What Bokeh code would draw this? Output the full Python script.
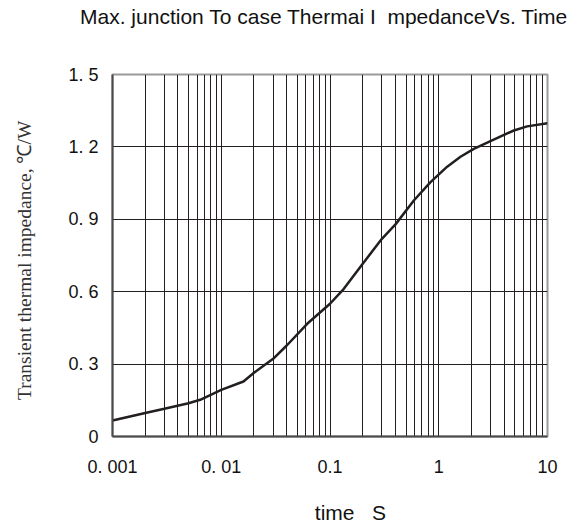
from bokeh.plotting import figure
from bokeh.models import Range1d, FixedTicker, LinearAxis
from bokeh.embed import file_html
from bokeh.resources import INLINE

# data
time_s = [0.001, 0.002, 0.003, 0.005, 0.0064, 0.01, 0.016, 0.02, 0.03, 0.04,
          0.0617, 0.1, 0.134, 0.2, 0.3, 0.4, 0.59, 0.84, 1.196, 1.585,
          2.1, 3.2, 4.9, 6.5, 10]
zth = [0.066, 0.097, 0.115, 0.138, 0.152, 0.193, 0.228, 0.264, 0.322, 0.377,
       0.467, 0.55, 0.612, 0.716, 0.819, 0.879, 0.978, 1.054, 1.118, 1.159,
       1.192, 1.23, 1.268, 1.285, 1.298]

x_ticks = [0.001, 0.01, 0.1, 1, 10]
x_tick_labels = ["0. 001", "0. 01", "0.1", "1", "10"]
y_ticks = [0, 0.3, 0.6, 0.9, 1.2, 1.5]
y_tick_labels = ["0", "0. 3", "0. 6", "0. 9", "1. 2", "1. 5"]

title_text = "Max. junction To case Thermai I\u00a0\u00a0mpedanceVs. Time\u00a0\u00a0"
x_title = "\u00a0" * 7 + "time\u00a0\u00a0\u00a0S"
y_title = "Transient thermal impedance, \u2103/W\u00a0\u00a0"

minor_x = [m * d for d in [0.001, 0.01, 0.1, 1] for m in range(2, 10)]

p = figure(width=579, height=526, x_axis_type="log",
           x_range=Range1d(0.001, 10), y_range=Range1d(0, 1.5),
           output_backend="svg", toolbar_location=None,
           min_border_left=112, min_border_right=32,
           min_border_top=74, min_border_bottom=90,
           frame_width=435, frame_height=362)

p.outline_line_color = "#9a9a9a"
p.outline_line_width = 2
p.background_fill_color = "white"
p.border_fill_color = "white"

p.xaxis.ticker = FixedTicker(ticks=x_ticks, minor_ticks=minor_x)
p.xaxis.major_label_overrides = {t: l for t, l in zip(x_ticks, x_tick_labels)}
p.yaxis.ticker = FixedTicker(ticks=y_ticks)
p.yaxis.major_label_overrides = {t: l for t, l in zip(y_ticks, y_tick_labels)}

for ax in (p.xaxis, p.yaxis):
    ax.major_tick_line_color = None
    ax.minor_tick_line_color = None
    ax.axis_line_color = "#4a4a4a"
    ax.axis_line_width = 2
    ax.major_label_text_font = "Liberation Sans"
    ax.major_label_text_font_size = "18px"
    ax.major_label_text_color = "#111111"
    ax.axis_label_text_font_style = "normal"

p.xaxis.major_label_standoff = 14
p.yaxis.major_label_standoff = 8

p.xaxis.axis_label = x_title
p.xaxis.axis_label_text_font = "Liberation Sans"
p.xaxis.axis_label_text_font_size = "21px"
p.xaxis.axis_label_text_color = "#111111"
p.xaxis.axis_label_standoff = 21

p.yaxis.axis_label = y_title
p.yaxis.axis_label_text_font = "Liberation Serif"
p.yaxis.axis_label_text_font_size = "19.5px"
p.yaxis.axis_label_text_color = "#333333"
p.yaxis.axis_label_standoff = 30

# title carried by an empty axis above the frame
top_axis = LinearAxis(ticker=FixedTicker(ticks=[]), axis_label=title_text,
                      axis_line_color=None, major_tick_line_color=None,
                      minor_tick_line_color=None,
                      axis_label_text_font="Liberation Sans",
                      axis_label_text_font_size="21px",
                      axis_label_text_font_style="normal",
                      axis_label_text_color="#111111",
                      axis_label_standoff=47)
p.add_layout(top_axis, "above")

p.xgrid.ticker = FixedTicker(ticks=[0.01, 0.1, 1], minor_ticks=minor_x)
p.xgrid.grid_line_color = "#231f20"
p.xgrid.grid_line_width = 1
p.xgrid.minor_grid_line_color = "#231f20"
p.xgrid.minor_grid_line_width = 1
p.ygrid.ticker = FixedTicker(ticks=[0.3, 0.6, 0.9, 1.2])
p.ygrid.grid_line_color = "#231f20"
p.ygrid.grid_line_width = 1

p.line(time_s, zth, line_color="#231f20", line_width=2.5)

open("out.html", "w").write(file_html(p, INLINE))
